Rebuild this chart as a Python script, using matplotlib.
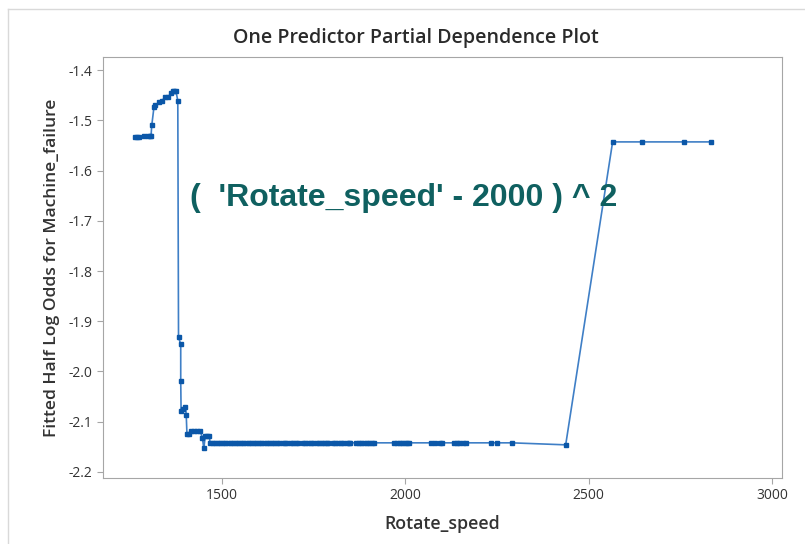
#!/usr/bin/env python3
"""
One predictor partial dependence plot for Rotate_speed (Minitab style).
"""

import numpy as np
import matplotlib.pyplot as plt
from matplotlib.lines import Line2D

# Points on the steep left part of the curve
left_speed = [1262, 1268, 1274, 1286, 1298, 1303, 1306, 1308, 1314, 1317, 1329, 1335,
              1344, 1353, 1360, 1365, 1370, 1374, 1379, 1381, 1387, 1387, 1388, 1393,
              1400, 1402, 1404, 1410, 1414, 1422, 1431, 1440, 1446, 1450, 1454, 1460, 1465]
left_log_odds = [-1.533, -1.533, -1.533, -1.531, -1.531, -1.531, -1.531, -1.510, -1.474, -1.470,
                 -1.464, -1.462, -1.454, -1.453, -1.446, -1.442, -1.442, -1.442, -1.461, -1.932,
                 -1.946, -2.018, -2.079, -2.074, -2.070, -2.086, -2.125, -2.124, -2.118, -2.118,
                 -2.118, -2.118, -2.132, -2.153, -2.128, -2.128, -2.128]

# Long flat run near the bottom
flat_speed = [1467, 1474, 1481, 1488, 1495, 1502, 1509, 1516, 1523, 1530, 1537, 1544, 1551,
              1558, 1565, 1572, 1579, 1586, 1593, 1600, 1607, 1614, 1621, 1628, 1635, 1642,
              1649, 1654, 1665, 1672, 1676, 1687, 1694, 1701, 1707, 1720, 1727, 1734, 1741,
              1748, 1758, 1765, 1772, 1779, 1786, 1790, 1802, 1809, 1816, 1823, 1829, 1840,
              1847, 1850, 1866, 1873, 1880, 1887, 1894, 1901, 1908, 1915, 1970, 1977, 1984,
              1991, 1998, 2005, 2009, 2070, 2080, 2095, 2099, 2133, 2140, 2146, 2156, 2164,
              2232, 2250, 2290]
flat_level = -2.142

# Right part: last low point, then the plateau
right_speed = [2437, 2565, 2644, 2760, 2834]
right_log_odds = [-2.146, -1.543, -1.543, -1.543, -1.543]

x_ticks = [1500, 2000, 2500, 3000]
y_ticks = [-1.4, -1.5, -1.6, -1.7, -1.8, -1.9, -2.0, -2.1, -2.2]

speed = np.concatenate([left_speed, flat_speed, right_speed])
log_odds = np.concatenate([left_log_odds, np.full(len(flat_speed), flat_level), right_log_odds])

plt.rcParams['font.family'] = ['Open Sans', 'DejaVu Sans']

fig = plt.figure(figsize=(8.05, 5.44), dpi=100)
ax = fig.add_axes([103 / 805, 1 - 478 / 544, (782 - 103) / 805, (478 - 57) / 544])

# screenshot frame
fig.add_artist(Line2D([8 / 805, 1], [1 - 9 / 544, 1 - 9 / 544], color='#d9d9d9', lw=1))
fig.add_artist(Line2D([8 / 805, 8 / 805], [0, 1 - 9 / 544], color='#d9d9d9', lw=1))

ax.plot(speed, log_odds, color='#3f7fc6', lw=1.2, zorder=2)
ax.plot(speed, log_odds, ls='none', marker='s', ms=3.5, color='#0b57a8', zorder=3)

ax.set_xlim(1175, 3027)
ax.set_ylim(-2.212, -1.374)
ax.set_xticks(x_ticks)
ax.set_yticks(y_ticks)
ax.set_yticklabels([f'{t:.1f}' for t in y_ticks])

for s in ax.spines.values():
    s.set_color('#a6a6a6')
ax.tick_params(direction='out', length=4, color='#a6a6a6', labelsize=10, labelcolor='#333333')

ax.set_xlabel('Rotate_speed', fontsize=12.8, color='#333333', labelpad=8, fontweight='semibold')
ax.set_ylabel('Fitted Half Log Odds for Machine_failure', fontsize=12.6, color='#333333',
              labelpad=6, fontweight='semibold')
fig.text(416 / 805, 1 - 38 / 544, 'One Predictor Partial Dependence Plot',
         ha='center', va='center', fontsize=14.1, color='#2a2a2a', fontweight='semibold')

ax.text(0.128, 0.664, "(  'Rotate_speed' - 2000 ) ^ 2", transform=ax.transAxes,
        family='Liberation Sans', fontweight='bold', fontsize=23, color='#0f6060',
        ha='left', va='center')

fig.savefig('out.png', dpi=100)
